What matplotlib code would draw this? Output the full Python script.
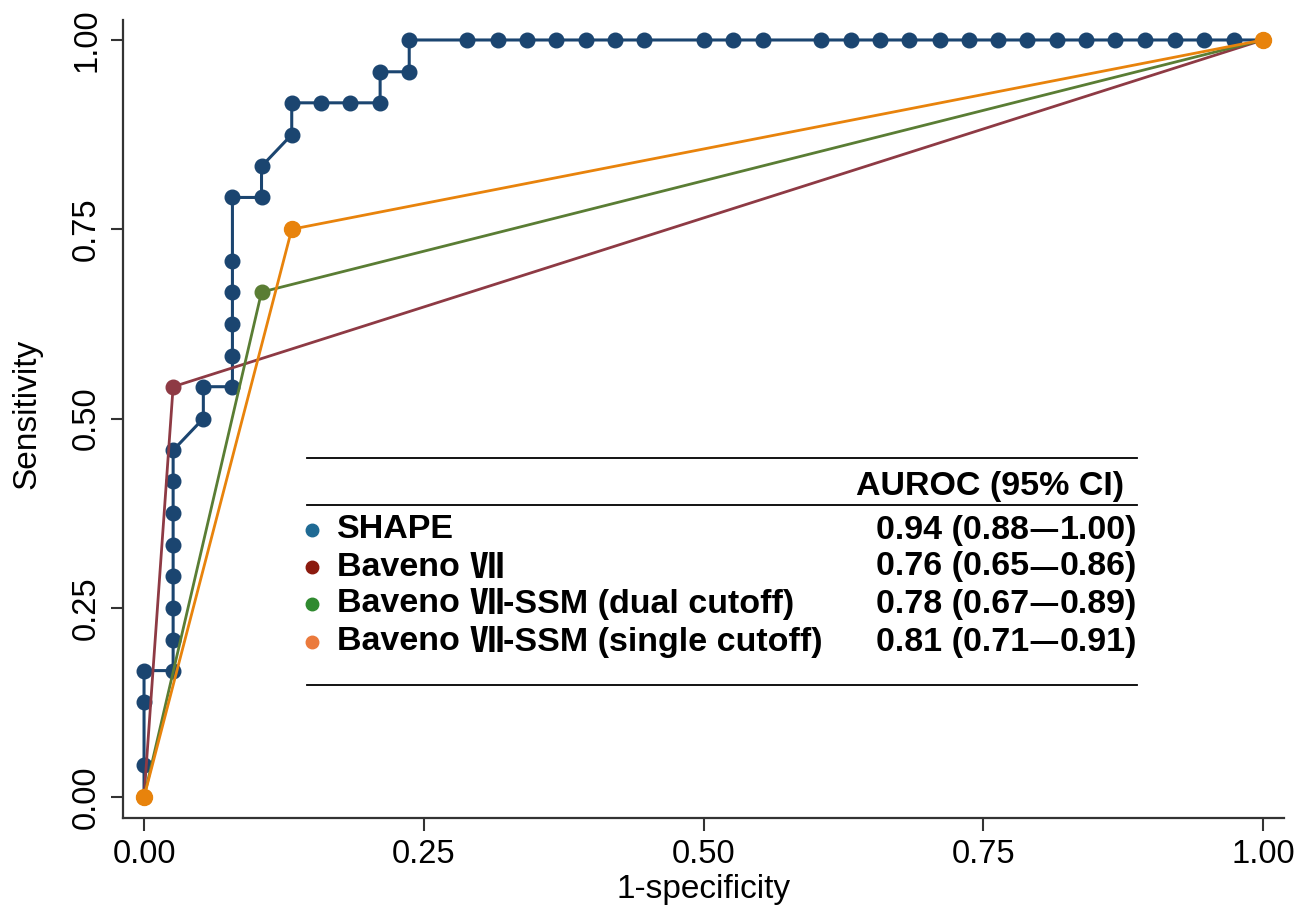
import matplotlib
matplotlib.use("Agg")
import matplotlib.pyplot as plt
from matplotlib.lines import Line2D

# ---- data ----
shape_fpr = [0, 0, 0, 0, 0.026, 0.026, 0.026, 0.026, 0.026, 0.026, 0.026, 0.026,
             0.053, 0.053, 0.079, 0.079, 0.079, 0.079, 0.079, 0.079, 0.105, 0.105,
             0.132, 0.132, 0.158, 0.184, 0.211, 0.211, 0.237, 0.237,
             0.289, 0.316, 0.342, 0.368, 0.395, 0.421, 0.447, 0.500, 0.526, 0.553,
             0.605, 0.632, 0.658, 0.684, 0.711, 0.737, 0.763, 0.789, 0.816, 0.842,
             0.868, 0.895, 0.921, 0.947, 0.974, 1.0]
shape_tpr = [0, 0.042, 0.125, 0.167, 0.167, 0.208, 0.25, 0.292, 0.333, 0.375, 0.417, 0.458,
             0.5, 0.542, 0.542, 0.583, 0.625, 0.667, 0.708, 0.792, 0.792, 0.833,
             0.875, 0.917, 0.917, 0.917, 0.917, 0.958, 0.958, 1.0,
             1.0, 1.0, 1.0, 1.0, 1.0, 1.0, 1.0, 1.0, 1.0, 1.0,
             1.0, 1.0, 1.0, 1.0, 1.0, 1.0, 1.0, 1.0, 1.0, 1.0,
             1.0, 1.0, 1.0, 1.0, 1.0, 1.0]
b7_fpr = [0, 0.026, 1.0]
b7_tpr = [0, 0.542, 1.0]
dual_fpr = [0, 0.105, 1.0]
dual_tpr = [0, 0.667, 1.0]
single_fpr = [0, 0.132, 1.0]
single_tpr = [0, 0.75, 1.0]

labels = ["SHAPE", "Baveno Ⅶ", "Baveno Ⅶ-SSM (dual cutoff)", "Baveno Ⅶ-SSM (single cutoff)"]
auroc = ["0.94 (0.88—1.00)", "0.76 (0.65—0.86)", "0.78 (0.67—0.89)", "0.81 (0.71—0.91)"]
header = "AUROC (95% CI)"
xticks = [0, 0.25, 0.5, 0.75, 1.0]
yticks = [0, 0.25, 0.5, 0.75, 1.0]

line_colors = ["#1B4570", "#8E3A44", "#5A7D34", "#E8830C"]
dot_colors = ["#1F6A94", "#8B1A0E", "#2F8A2F", "#EB7A3C"]

plt.rcParams['font.family'] = ['Liberation Sans', 'DejaVu Sans']

W, H = 1312, 910
fig = plt.figure(figsize=(W / 100, H / 100), dpi=100)
ax = fig.add_axes([123 / W, 1 - 818 / H, (1284 - 123) / W, (818 - 20) / H])

ax.plot(shape_fpr, shape_tpr, color=line_colors[0], lw=2.2, marker="o", ms=10.5,
        zorder=3, clip_on=False)
ax.plot(b7_fpr, b7_tpr, color=line_colors[1], lw=2.0, marker="o", ms=10.5, zorder=4,
        clip_on=False)
ax.plot(dual_fpr, dual_tpr, color=line_colors[2], lw=2.0, marker="o", ms=10.5, zorder=5,
        clip_on=False)
ax.plot(single_fpr, single_tpr, color=line_colors[3], lw=2.0, marker="o", ms=11.5, zorder=6,
        clip_on=False)

ax.set_xlim(-0.0188, 1.0188)
ax.set_ylim(-0.0277, 1.0264)
ax.set_xticks(xticks)
ax.set_yticks(yticks)
ax.set_xticklabels([f"{v:.2f}" for v in xticks], fontsize=23.5)
ax.set_yticklabels([f"{v:.2f}" for v in yticks], fontsize=23.5, rotation=90, va="center")
ax.tick_params(direction="out", length=9, width=1.5, color="#333333", pad=6)
for s in ["top", "right"]:
    ax.spines[s].set_visible(False)
for s in ["left", "bottom"]:
    ax.spines[s].set_linewidth(1.6)
    ax.spines[s].set_color("#333333")
ax.set_xlabel("1-specificity", fontsize=24, labelpad=3)
ax.set_ylabel("Sensitivity", fontsize=24)
ax.yaxis.set_label_coords(-0.0695, 0.506)

# ---- table-style legend ----
def fx(px):
    return px / W

def fy(py):
    return 1 - py / H

for py in [458, 505, 685]:
    fig.add_artist(Line2D([fx(307), fx(1137)], [fy(py), fy(py)], color="black", lw=1.3))

LAT = ['Liberation Sans', 'DejaVu Sans']
CJK = ['Noto Sans CJK SC', 'DejaVu Sans']
FS = 24.5
renderer = fig.canvas.get_renderer()


def split_runs(s):
    runs = []
    cur = ""
    for ch in s:
        if ch in "Ⅶ—":
            if cur:
                runs.append((cur, LAT))
                cur = ""
            runs.append((ch, CJK))
        else:
            cur += ch
    if cur:
        runs.append((cur, LAT))
    return runs


def draw_runs(px, py, s, ha="left"):
    runs = split_runs(s)
    texts = []
    widths = []
    for txt, fam in runs:
        t = fig.text(0, fy(py), txt, ha="left", va="center", fontsize=FS,
                     fontweight="bold", family=fam)
        w = t.get_window_extent(renderer).width
        texts.append(t)
        widths.append(w)
    total = sum(widths)
    x0 = px if ha == "left" else px - total
    for t, w in zip(texts, widths):
        t.set_x(fx(x0))
        x0 += w


draw_runs(1124, 487, header, ha="right")
row_y = [530, 567, 604, 642]
for i in range(4):
    fig.add_artist(Line2D([fx(312)], [fy(row_y[i])], marker="o", ms=9, color=dot_colors[i],
                          lw=0))
    draw_runs(337, row_y[i], labels[i], ha="left")
    draw_runs(1137, row_y[i], auroc[i], ha="right")

fig.savefig("out.png", dpi=100)
